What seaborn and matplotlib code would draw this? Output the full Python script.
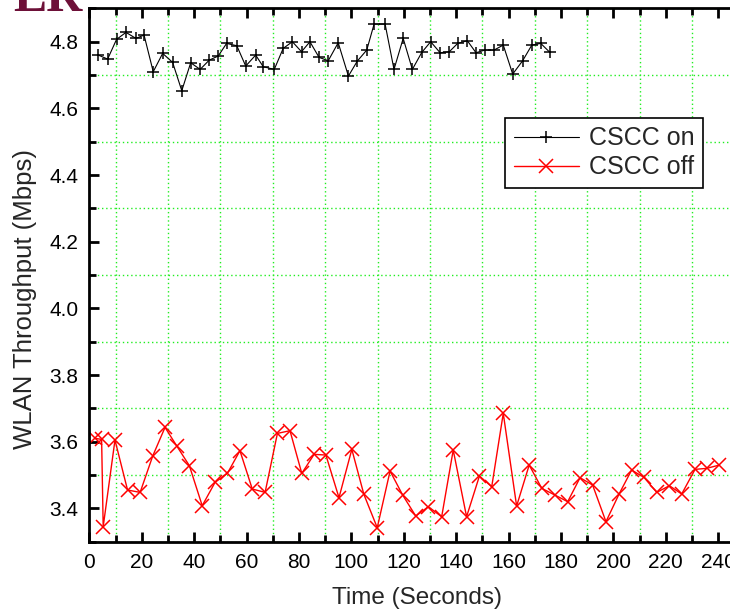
import matplotlib
matplotlib.use("Agg")
import matplotlib.pyplot as plt
import seaborn as sns
import pandas as pd
from matplotlib.ticker import MultipleLocator

# CSCC on (black +)
on_time = [3.4, 7.0, 10.4, 14.0, 17.8, 20.9, 24.4, 28.0, 31.8, 35.3, 38.7, 42.3, 45.8, 49.2,
           52.4, 56.3, 59.7, 63.5, 66.4, 70.6, 74.0, 77.5, 81.0, 84.2, 87.7, 91.2,
           95.0, 98.9, 102.3, 105.9, 108.7, 112.9, 116.3, 119.8, 123.3, 126.9, 130.3, 133.9,
           137.4, 140.6, 144.3, 147.6, 151.0, 154.5, 158.0, 161.6, 165.4, 168.9, 172.3, 175.8]
on_tput = [4.760, 4.748, 4.807, 4.828, 4.810, 4.820, 4.710, 4.765, 4.738, 4.653, 4.737, 4.717, 4.745, 4.757,
           4.795, 4.788, 4.727, 4.760, 4.725, 4.717, 4.780, 4.800, 4.770, 4.800, 4.753, 4.743,
           4.797, 4.697, 4.742, 4.775, 4.853, 4.853, 4.717, 4.810, 4.717, 4.768, 4.800, 4.767,
           4.770, 4.795, 4.803, 4.767, 4.775, 4.775, 4.790, 4.703, 4.743, 4.790, 4.795, 4.768]

# CSCC off (red x)
off_time = [2.2, 4.7, 5.3, 9.8, 14.6, 19.4, 24.2, 28.9, 33.4, 38.2, 43.1, 48.0, 52.7, 57.5,
            62.2, 67.1, 71.8, 76.6, 81.1, 85.8, 90.3, 95.3, 100.2, 104.8, 109.9, 114.8,
            119.6, 124.6, 129.4, 134.5, 138.9, 144.0, 148.9, 153.6, 158.0, 163.1, 167.9,
            172.7, 177.7, 182.6, 187.3, 192.1, 197.2, 202.2, 207.0, 211.7, 216.6, 221.4,
            226.1, 231.2, 235.6, 240.5]
off_tput = [3.610, 3.607, 3.345, 3.605, 3.455, 3.448, 3.557, 3.643, 3.587, 3.528, 3.408, 3.478, 3.505, 3.573,
            3.458, 3.448, 3.625, 3.633, 3.505, 3.562, 3.560, 3.432, 3.577, 3.442, 3.342, 3.512,
            3.440, 3.377, 3.405, 3.375, 3.575, 3.375, 3.497, 3.465, 3.685, 3.407, 3.530,
            3.460, 3.440, 3.420, 3.492, 3.470, 3.360, 3.443, 3.515, 3.493, 3.448, 3.468,
            3.443, 3.517, 3.520, 3.530]

sns.set_theme(style="ticks")
plt.rcParams["font.family"] = ["Liberation Sans", "DejaVu Sans"]

fig = plt.figure(figsize=(7.3, 6.11), dpi=100)
ax = fig.add_axes([89.3 / 730, 69.3 / 611, 655 / 730, 533.3 / 611])

on_df = pd.DataFrame({"t": on_time, "v": on_tput})
off_df = pd.DataFrame({"t": off_time, "v": off_tput})

sns.lineplot(data=on_df, x="t", y="v", ax=ax, color="black", linewidth=0.8,
             marker="+", markersize=9, markeredgewidth=1.1, markeredgecolor="black",
             label="CSCC on", sort=False)
sns.lineplot(data=off_df, x="t", y="v", ax=ax, color="red", linewidth=1.0,
             marker="x", markersize=10, markeredgewidth=1.1, markeredgecolor="red",
             label="CSCC off", sort=False)

ax.set_xlim(0, 250)
ax.set_ylim(3.3, 4.9)
ax.xaxis.set_major_locator(MultipleLocator(20))
ax.xaxis.set_minor_locator(MultipleLocator(10))
ax.yaxis.set_major_locator(MultipleLocator(0.2))
ax.yaxis.set_minor_locator(MultipleLocator(0.1))
ax.yaxis.set_major_formatter(matplotlib.ticker.FormatStrFormatter("%.1f"))

ax.grid(False)
ax.grid(which="minor", color="#22ee22", linestyle=(0, (1, 2)), linewidth=1.0)
ax.set_axisbelow(True)

for s in ax.spines.values():
    s.set_visible(True)
    s.set_linewidth(2)
    s.set_color("black")

ax.tick_params(which="both", direction="in", top=True, right=True, width=2, colors="black",
               labelsize=15)
ax.tick_params(which="major", length=7, pad=8)
ax.tick_params(which="minor", length=5)

ax.set_xlabel("Time (Seconds)", fontsize=17.5, labelpad=11)
ax.set_ylabel("WLAN Throughput (Mbps)", fontsize=18.5)
ax.yaxis.set_label_coords(-0.08, 0.456)

leg = ax.legend(loc="upper right", bbox_to_anchor=(0.937, 0.795), borderaxespad=0,
                fontsize=18, frameon=True, fancybox=False, edgecolor="black",
                framealpha=1, handlelength=2.6, handletextpad=0.4,
                labelspacing=0.2, borderpad=0.35)
leg.get_frame().set_linewidth(1.2)

# clipped slide title remnant in the corner
fig.text(13 / 730, 1 - 11 / 611, "ER", color="#6d1038", fontsize=36,
         fontweight="bold", family=["Liberation Serif", "DejaVu Serif"], va="baseline")

fig.savefig("out.png", dpi=100)
plt.close(fig)
